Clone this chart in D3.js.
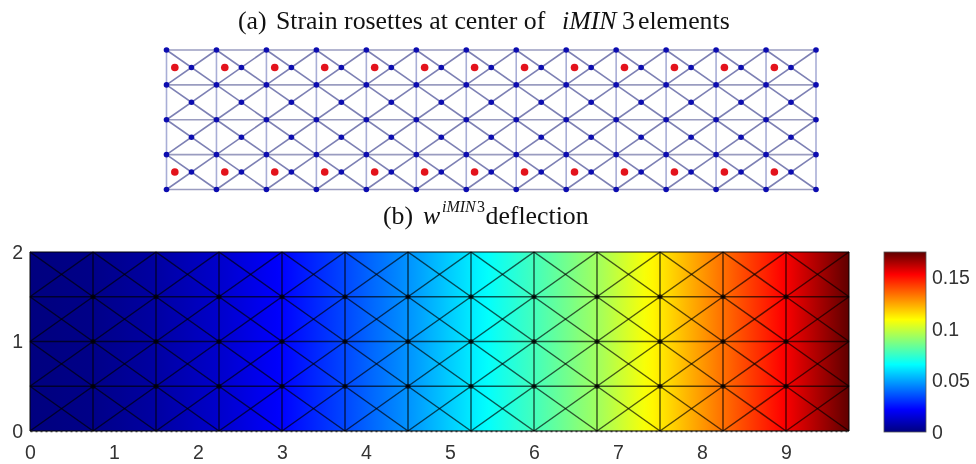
<!DOCTYPE html>
<html>
<head>
<meta charset="utf-8">
<script src="https://cdnjs.cloudflare.com/ajax/libs/d3/7.8.5/d3.min.js"></script>
<style>
  html, body { margin: 0; padding: 0; background: #fff; }
  svg { display: block; filter: blur(0.45px); }
  .title { font-family: "Liberation Serif", serif; font-size: 25.8px; fill: #111; }
  .tick text { font-family: "Liberation Sans", sans-serif; font-size: 19.5px; fill: #333; }
</style>
</head>
<body>
<svg id="chart" width="976" height="464"></svg>
<script>
// mesh node positions
var nodeX = [0, 0.75, 1.5, 2.25, 3, 3.75, 4.5, 5.25, 6, 6.75, 7.5, 8.25, 9, 9.75];
var nodeY = [0, 0.5, 1, 1.5, 2];

// deflection at each mesh column
var deflection = [0, 0.0015, 0.006, 0.013, 0.022, 0.034, 0.047, 0.062, 0.077, 0.093, 0.113, 0.134, 0.154, 0.175];

// rows of cells holding a strain rosette (left triangle of each cell)
var rosetteRows = [0, 3];

var xTicks = [0, 1, 2, 3, 4, 5, 6, 7, 8, 9];
var yTicks = [0, 1, 2];
var barTicks = [0, 0.05, 0.1, 0.15];
var barMax = 0.175;

var jetStops = ["#00007f", "#0000ff", "#00ffff", "#ffff00", "#ff0000", "#5f0000"];
var jetPos = [0, 0.125, 0.375, 0.625, 0.875, 1];

var svg = d3.select("#chart");
var defs = svg.append("defs");

var jet = d3.scaleLinear()
  .domain(jetPos.map(function (p) { return p * barMax; }))
  .range(jetStops);

var valueAt = d3.scaleLinear().domain(nodeX).range(deflection);

//cells: every cell has 4 corners and a center node
var cells = [];
d3.range(nodeX.length - 1).forEach(function (i) {
  d3.range(nodeY.length - 1).forEach(function (j) {
    cells.push({
      x0: nodeX[i], x1: nodeX[i + 1],
      y0: nodeY[j], y1: nodeY[j + 1],
      row: j
    });
  });
});

var drawMesh = function (g, x, y, style) {
  var lines = [];
  nodeY.forEach(function (v) {
    lines.push({ x1: nodeX[0], y1: v, x2: nodeX[nodeX.length - 1], y2: v, kind: "h" });
  });
  nodeX.forEach(function (v) {
    lines.push({ x1: v, y1: nodeY[0], x2: v, y2: nodeY[nodeY.length - 1], kind: "v" });
  });
  cells.forEach(function (c) {
    lines.push({ x1: c.x0, y1: c.y0, x2: c.x1, y2: c.y1, kind: "d" });
    lines.push({ x1: c.x0, y1: c.y1, x2: c.x1, y2: c.y0, kind: "d" });
  });

  g.selectAll("line.mesh")
    .data(lines)
    .enter()
    .append("line")
    .attr("class", "mesh")
    .attr("x1", function (d) { return x(d.x1); })
    .attr("y1", function (d) { return y(d.y1); })
    .attr("x2", function (d) { return x(d.x2); })
    .attr("y2", function (d) { return y(d.y2); })
    .attr("stroke", function (d) { return style.stroke[d.kind]; })
    .attr("stroke-width", style.width)
    .attr("stroke-opacity", style.opacity);
};

var nodeList = function () {
  var nodes = [];
  nodeX.forEach(function (a) {
    nodeY.forEach(function (b) {
      nodes.push({ x: a, y: b });
    });
  });
  cells.forEach(function (c) {
    nodes.push({ x: (c.x0 + c.x1) / 2, y: (c.y0 + c.y1) / 2 });
  });
  return nodes;
};

// ---- (a) mesh with rosettes
var titleA = svg.append("text").attr("class", "title").attr("y", 29);
titleA.append("tspan").attr("x", 238).text("(a)");
titleA.append("tspan").attr("x", 276).text("Strain rosettes at center of");
titleA.append("tspan").attr("x", 562).attr("font-style", "italic").text("iMIN");
titleA.append("tspan").attr("x", 622).text("3");
titleA.append("tspan").attr("x", 638).text("elements");

var xA = d3.scaleLinear().domain([0, 9.75]).range([166.5, 816]);
var yA = d3.scaleLinear().domain([0, 2]).range([189.5, 50]);
var gA = svg.append("g");

drawMesh(gA, xA, yA, {
  stroke: { h: "#9a9cc0", v: "#a9aed6", d: "#7d80b4" },
  width: 1.6,
  opacity: 1
});

gA.selectAll("circle.node")
  .data(nodeList())
  .enter()
  .append("circle")
  .attr("class", "node")
  .attr("cx", function (d) { return xA(d.x); })
  .attr("cy", function (d) { return yA(d.y); })
  .attr("r", 2.8)
  .attr("fill", "#0c0cb0");

gA.selectAll("circle.rosette")
  .data(cells.filter(function (c) { return rosetteRows.indexOf(c.row) >= 0; }))
  .enter()
  .append("circle")
  .attr("class", "rosette")
  .attr("cx", function (d) { return xA(d.x0 + (d.x1 - d.x0) / 6); })
  .attr("cy", function (d) { return yA((d.y0 + d.y1) / 2); })
  .attr("r", 3.8)
  .attr("fill", "#e3131c");

// ---- (b) deflection field
var titleB = svg.append("text").attr("class", "title").attr("y", 224);
titleB.append("tspan").attr("x", 383).text("(b)");
titleB.append("tspan").attr("x", 423).attr("font-style", "italic").text("w");
titleB.append("tspan").attr("x", 442).attr("dy", -12).attr("font-size", 16).attr("font-style", "italic").text("iMIN");
titleB.append("tspan").attr("x", 477).attr("font-size", 16).text("3");
titleB.append("tspan").attr("x", 485.5).attr("dy", 12).text("deflection");

var xB = d3.scaleLinear().domain([0, 9.75]).range([30, 849]);
var yB = d3.scaleLinear().domain([0, 2]).range([431, 252]);
var gB = svg.append("g");

var fieldGrad = defs.append("linearGradient").attr("id", "fieldGrad");
fieldGrad.selectAll("stop")
  .data(d3.range(0, 1.0001, 0.01))
  .enter()
  .append("stop")
  .attr("offset", function (d) { return d; })
  .attr("stop-color", function (d) { return jet(valueAt(d * 9.75)); });

gB.append("rect")
  .attr("x", xB(0))
  .attr("y", yB(2))
  .attr("width", xB(9.75) - xB(0))
  .attr("height", yB(0) - yB(2))
  .attr("fill", "url(#fieldGrad)");

drawMesh(gB, xB, yB, {
  stroke: { h: "#000", v: "#000", d: "#000" },
  width: 1.5,
  opacity: 0.65
});

gB.selectAll("circle.node")
  .data(nodeList().filter(function (d) {
    return d.x > 0 && d.x < 9.75 && d.y > 0 && d.y < 2 && nodeY.indexOf(d.y) >= 0;
  }))
  .enter()
  .append("circle")
  .attr("class", "node")
  .attr("cx", function (d) { return xB(d.x); })
  .attr("cy", function (d) { return yB(d.y); })
  .attr("r", 2.6)
  .attr("fill", "#000")
  .attr("fill-opacity", 0.65);

var xAxis = d3.axisBottom(xB).tickValues(xTicks).tickFormat(d3.format("d")).tickSize(0).tickPadding(14);
var yAxis = d3.axisLeft(yB).tickValues(yTicks).tickFormat(d3.format("d")).tickSize(0).tickPadding(7);

svg.append("g").attr("transform", "translate(0,431)").call(xAxis)
  .call(function (g) {
    g.select(".domain")
      .attr("stroke", "#333")
      .attr("stroke-width", 1.6)
      .attr("stroke-dasharray", "2 3");
  });
svg.append("g").attr("transform", "translate(30,0)").call(yAxis)
  .call(function (g) { g.select(".domain").remove(); });

// ---- colorbar
var yBar = d3.scaleLinear().domain([0, barMax]).range([432, 252]);

var barGrad = defs.append("linearGradient")
  .attr("id", "barGrad")
  .attr("x1", 0).attr("y1", 1).attr("x2", 0).attr("y2", 0);
barGrad.selectAll("stop")
  .data(jetPos)
  .enter()
  .append("stop")
  .attr("offset", function (d) { return d; })
  .attr("stop-color", function (d, i) { return jetStops[i]; });

svg.append("rect")
  .attr("x", 884)
  .attr("y", yBar(barMax))
  .attr("width", 42)
  .attr("height", yBar(0) - yBar(barMax))
  .attr("fill", "url(#barGrad)")
  .attr("stroke", "#555")
  .attr("stroke-width", 0.8);

var barAxis = d3.axisRight(yBar).tickValues(barTicks).tickFormat(d3.format("")).tickSize(0).tickPadding(6);
svg.append("g").attr("transform", "translate(926,0)").call(barAxis)
  .call(function (g) { g.select(".domain").remove(); });
</script>
</body>
</html>
